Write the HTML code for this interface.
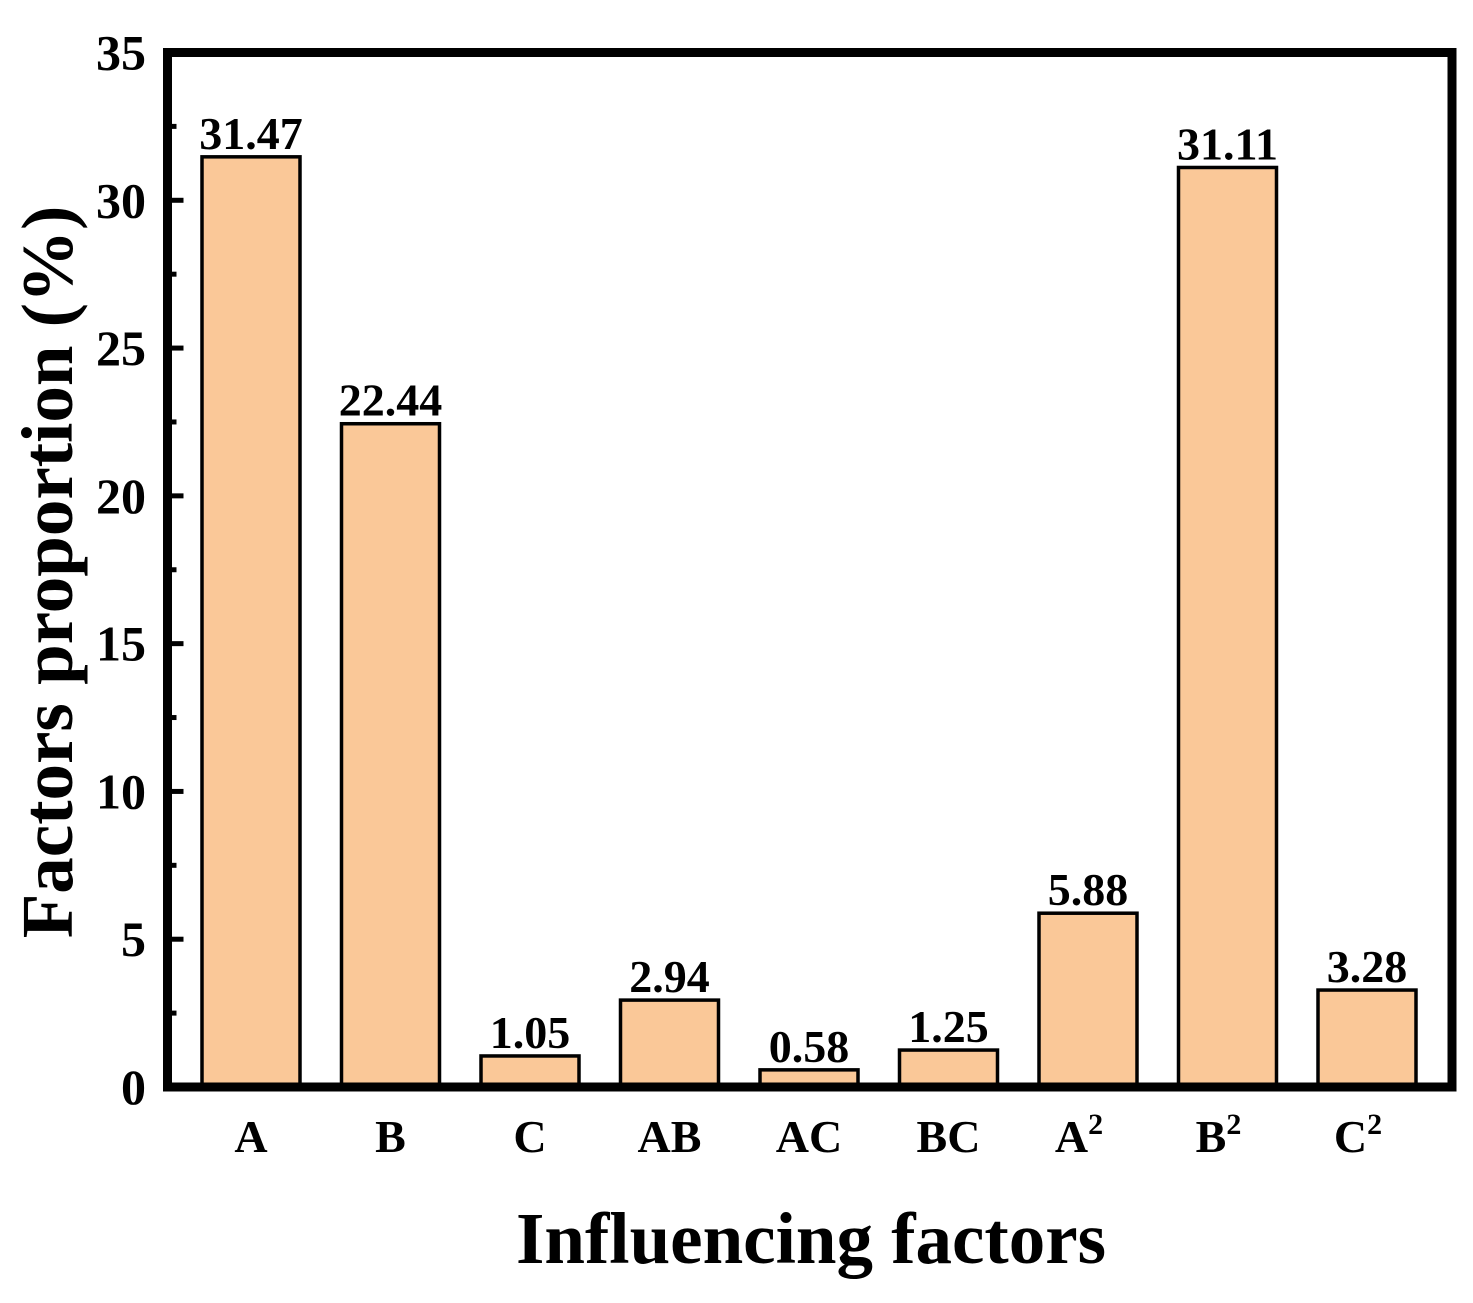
<!DOCTYPE html>
<html><head><meta charset="utf-8"><style>
body{margin:0;background:#fff}
svg text{font-family:"Liberation Serif",serif;font-weight:bold;fill:#000}
</style></head><body>
<svg id="chart" width="1473" height="1298" viewBox="0 0 1473 1298" xmlns="http://www.w3.org/2000/svg">
<g id="bars"></g>
<g id="axes"></g>
<text x="811" y="1263" font-size="73" text-anchor="middle">Influencing factors</text>
<text x="0" y="0" font-size="73" text-anchor="middle" transform="translate(72,572) rotate(-90)">Factors proportion (%)</text>
</svg>
<script>
const categories=["A","B","C","AB","AC","BC","A2","B2","C2"];
const catLabels=["A","B","C","AB","AC","BC","A","B","C"];
const catSup=["","","","","","","2","2","2"];
const values=[31.47,22.44,1.05,2.94,0.58,1.25,5.88,31.11,3.28];
const valueLabels=["31.47","22.44","1.05","2.94","0.58","1.25","5.88","31.11","3.28"];
const yTicks=[0,5,10,15,20,25,30,35];
const NS="http://www.w3.org/2000/svg";
const L=167.5,R=1452,T=52.5,B=1087,ymax=35;
function y(v){return B-(v/ymax)*(B-T);}
function xc(i){return 251+i*139.5;}
const bw=98;
const bars=document.getElementById('bars'),axes=document.getElementById('axes');
function mk(tag,attrs,parent){const e=document.createElementNS(NS,tag);for(const k in attrs)e.setAttribute(k,attrs[k]);parent.appendChild(e);return e;}
values.forEach((v,i)=>{
 const r=mk('rect',{x:xc(i)-bw/2,y:y(v),width:bw,height:B-y(v),fill:'#FAC898',stroke:'#000','stroke-width':3.5},bars);
 
 
 const t=mk('text',{x:xc(i),y:y(v)-8,'font-size':46,'text-anchor':'middle'},bars);
 t.textContent=valueLabels[i];
 
 
 const c=mk('text',{x:xc(i)-(catSup[i]?9:0),y:1152,'font-size':46,'text-anchor':'middle'},axes);
 c.textContent=catLabels[i];
 if(catSup[i]){const s=mk('tspan',{'font-size':30,dy:-18},c);s.textContent=catSup[i];}
 
 
});
yTicks.forEach(v=>{
 const t=mk('text',{x:146,y:y(v)+17,'font-size':50,'text-anchor':'end'},axes);
 t.textContent=v;
 
 
 const l=mk('line',{x1:L,x2:L+16,y1:y(v),y2:y(v),stroke:'#000','stroke-width':5},axes);
 
 
 if(v<ymax){const m=mk('line',{x1:L,x2:L+9,y1:y(v+2.5),y2:y(v+2.5),stroke:'#000','stroke-width':5},axes);
 
 }
});
const f=mk('rect',{x:L,y:T,width:R-L,height:B-T,fill:'none',stroke:'#000','stroke-width':9},axes);


</script>
</body></html>
